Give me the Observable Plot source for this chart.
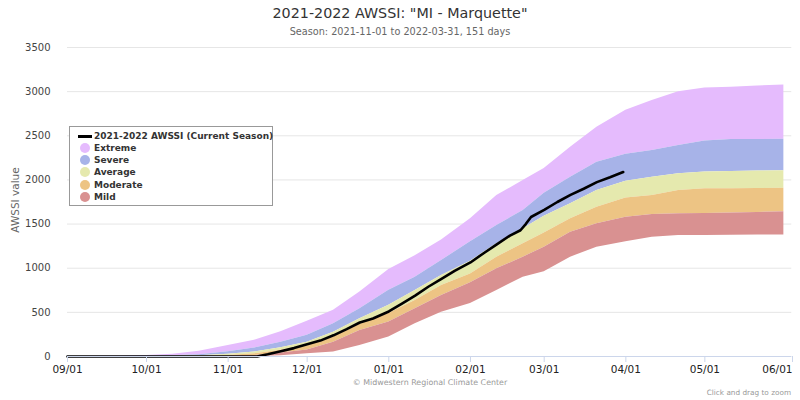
<!DOCTYPE html>
<html>
<head>
<meta charset="utf-8">
<script src="https://cdn.jsdelivr.net/npm/d3@7"></script>
<script src="https://cdn.jsdelivr.net/npm/@observablehq/plot@0.6"></script>
<style>
  html, body { margin: 0; padding: 0; background: #fff; }
  #wrap { position: relative; width: 800px; height: 400px; font-family: "DejaVu Sans", sans-serif; overflow: hidden; }
  #wrap svg { position: absolute; left: 0; top: 0; overflow: visible; }
  .abs { position: absolute; white-space: nowrap; }
  #title { left: 0; width: 800px; top: 5px; text-align: center; font-size: 14.3px; color: #333; }
  #subtitle { left: 0; width: 800px; top: 26px; text-align: center; font-size: 9.7px; color: #666; }
  #ylabel { left: 15px; top: 200px; font-size: 10.5px; color: #666; transform: translate(-50%, -50%) rotate(-90deg); }
  #credit { left: 0; width: 860px; top: 378px; text-align: center; font-size: 7.9px; color: #999; }
  #zoom { right: 9px; top: 388px; font-size: 7.3px; color: #999; }
  #legend { left: 69px; top: 126px; width: 202px; height: 78px; border: 1.5px solid #999; background: #fff; }
  .li { position: absolute; left: 24px; font-size: 9px; font-weight: bold; color: #333; line-height: 12px; }
  .sym { position: absolute; }
</style>
</head>
<body>
<div id="wrap">
  <div id="chart"></div>
  <div class="abs" id="title">2021-2022 AWSSI: "MI - Marquette"</div>
  <div class="abs" id="subtitle">Season: 2021-11-01 to 2022-03-31, 151 days</div>
  <div class="abs" id="ylabel">AWSSI value</div>
  <div class="abs" id="credit">© Midwestern Regional Climate Center</div>
  <div class="abs" id="zoom">Click and drag to zoom</div>
  <div class="abs" id="legend"></div>
</div>
<script>
// Percentile band boundaries (AWSSI values) by date
const bandDates = ["2021-09-01","2021-09-21","2021-10-01","2021-10-11","2021-10-21","2021-11-01","2021-11-11","2021-11-21","2021-12-01","2021-12-11","2021-12-21","2022-01-01","2022-01-11","2022-01-21","2022-02-01","2022-02-11","2022-02-21","2022-03-01","2022-03-11","2022-03-21","2022-04-01","2022-04-11","2022-04-21","2022-05-01","2022-05-11","2022-05-21","2022-05-31"];
const mildLow  = [0,0,0,0,0,0,0,8,30,50,125,220,370,502,600,747,898,960,1125,1238,1300,1351,1370,1370,1372,1375,1375];
const mildTop  = [0,0,0,0,0,4,12,40,75,162,294,390,540,691,835,993,1125,1238,1408,1503,1578,1608,1616,1620,1625,1632,1640];
const modTop   = [0,0,0,0,3,12,30,70,120,220,362,487,634,804,935,1125,1276,1400,1559,1691,1795,1823,1880,1900,1900,1903,1905];
const avgTop   = [0,0,0,3,8,25,50,100,160,275,427,580,747,917,1080,1276,1446,1590,1729,1880,1985,2031,2069,2090,2095,2100,2105];
const sevTop   = [0,0,3,8,20,55,95,160,240,370,540,750,898,1087,1300,1484,1654,1850,2031,2201,2290,2333,2390,2440,2458,2458,2460];
const extTop   = [0,3,10,25,60,125,185,280,400,525,730,985,1140,1320,1560,1823,1993,2130,2371,2597,2790,2899,3000,3040,3050,3065,3075];

// Current season AWSSI
const seasonDates = ["2021-09-01","2021-11-12","2021-11-16","2021-11-21","2021-11-26","2021-12-01","2021-12-06","2021-12-11","2021-12-16","2021-12-21","2021-12-26","2022-01-01","2022-01-06","2022-01-11","2022-01-16","2022-01-21","2022-01-26","2022-02-01","2022-02-06","2022-02-11","2022-02-16","2022-02-20","2022-02-22","2022-02-24","2022-03-01","2022-03-06","2022-03-11","2022-03-16","2022-03-21","2022-03-26","2022-03-31"];
const seasonValues = [0,0,25,60,95,140,180,240,310,385,430,510,600,690,790,880,970,1065,1170,1270,1370,1430,1500,1580,1660,1750,1830,1900,1975,2030,2090];

const yTicks = [0,500,1000,1500,2000,2500,3000,3500];
const xTickLabels = ["09/01","10/01","11/01","12/01","01/01","02/01","03/01","04/01","05/01","06/01"];
const xTickDates = ["2021-09-01","2021-10-01","2021-11-01","2021-12-01","2022-01-01","2022-02-01","2022-03-01","2022-04-01","2022-05-01","2022-06-01"];
const axisEnd = "2022-06-03";

const bandNames = ["Extreme","Severe","Average","Moderate","Mild"];
const bandColors = ["#e5bbfd","#a7b3e8","#e5e9ae","#edc484","#d99191"];

const parse = d3.utcParse("%Y-%m-%d");
const rows = bandDates.map((d, i) => ({date: parse(d), low: mildLow[i], mild: mildTop[i], mod: modTop[i], avg: avgTop[i], sev: sevTop[i], ext: extTop[i]}));
const season = seasonDates.map((d, i) => ({date: parse(d), v: seasonValues[i]}));
const bands = [
  ["sev","ext",0],["avg","sev",1],["mod","avg",2],["mild","mod",3],["low","mild",4]
];
const tickMap = new Map(xTickDates.map((d, i) => [+parse(d), xTickLabels[i]]));
const tickDatesParsed = xTickDates.map(parse);

const chart = Plot.plot({
  width: 800,
  height: 400,
  marginLeft: 67,
  marginRight: 14,
  marginTop: 47,
  marginBottom: 44,
  style: {fontFamily: "DejaVu Sans, sans-serif", fontSize: "10px", background: "transparent", overflow: "visible"},
  x: {type: "utc", domain: [parse("2021-09-01"), parse("2022-06-01")]},
  y: {domain: [0, 3500]},
  marks: [
    Plot.ruleY(yTicks, {x1: parse(xTickDates[0]), x2: parse(axisEnd), stroke: "#e6e6e6", strokeWidth: 1}),
    ...bands.map(([a, b, k]) => Plot.areaY(rows, {x: "date", y1: a, y2: b, fill: bandColors[k], fillOpacity: 1})),
    Plot.line(season, {x: "date", y: "v", stroke: "#000", strokeWidth: 2.6}),
    Plot.ruleY([0], {x1: parse(xTickDates[0]), x2: parse(axisEnd), stroke: "#ccd6eb", strokeWidth: 1}),
    Plot.axisY(yTicks, {tickSize: 0, tickPadding: 17, label: null, fill: "#444", fontSize: 10, tickFormat: d => String(d)}),
    Plot.axisX(tickDatesParsed.slice(0, -1), {tickSize: 6, tickPadding: 3, stroke: "#ccd6eb", label: null, fill: "#222", fontSize: 10.5, tickFormat: d => tickMap.get(+d)}),
    Plot.axisX(tickDatesParsed.slice(-1), {tickSize: 6, tickPadding: 3, stroke: "#ccd6eb", label: null, fill: "#222", fontSize: 10.5, textAnchor: "end", dx: 6, tickFormat: d => tickMap.get(+d)})
  ]
});
document.getElementById("chart").appendChild(chart);

// legend
const leg = document.getElementById("legend");
const lineRow = document.createElement("div");
lineRow.className = "li"; lineRow.style.top = "3px"; lineRow.textContent = "2021-2022 AWSSI (Current Season)";
leg.appendChild(lineRow);
const ls = document.createElement("div");
ls.className = "sym"; ls.style.cssText = "left:8px;top:8px;width:14px;height:2.5px;background:#000;";
leg.appendChild(ls);
bandNames.forEach((n, i) => {
  const t = document.createElement("div");
  t.className = "li"; t.style.top = (15 + i * 12.2) + "px"; t.textContent = n;
  leg.appendChild(t);
  const c = document.createElement("div");
  c.className = "sym";
  c.style.cssText = `left:10px;top:${16 + i * 12.2}px;width:10px;height:10px;border-radius:50%;background:${bandColors[i]};`;
  leg.appendChild(c);
});
</script>
</body>
</html>
